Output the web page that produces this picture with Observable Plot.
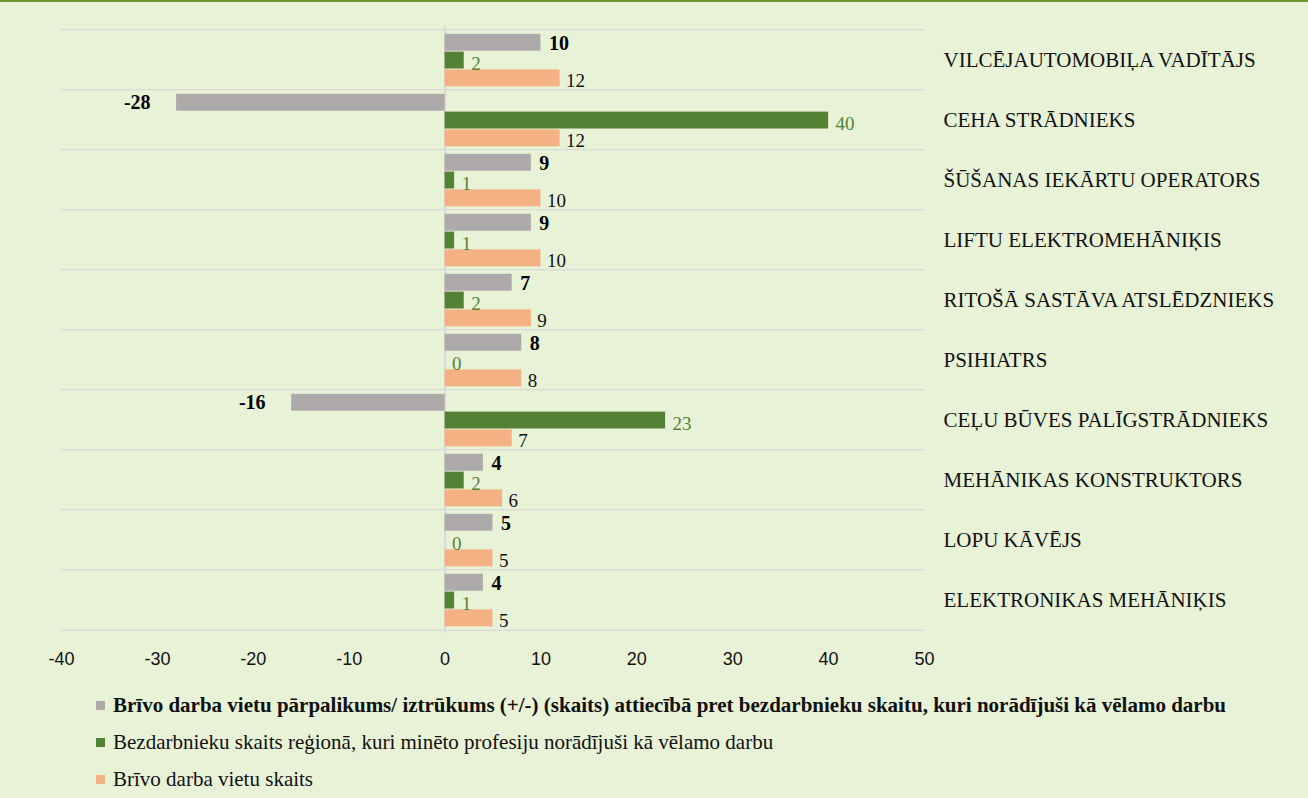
<!DOCTYPE html>
<html>
<head>
<meta charset="utf-8">
<script src="https://cdn.jsdelivr.net/npm/d3@7"></script>
<script src="https://cdn.jsdelivr.net/npm/@observablehq/plot@0.6"></script>
<style>
  html, body { margin: 0; padding: 0; background: #e8f2d6; }
  body { width: 1308px; height: 798px; overflow: hidden; font-family: "Liberation Serif", "Times New Roman", serif; }
  #topline { height: 2px; background: #6b9a2c; }
  #legend { position: absolute; left: 96px; top: 687px; font-size: 21px; color: #111; }
  .row { height: 37px; line-height: 37px; display: flex; align-items: center; }
  .sw { width: 9px; height: 9px; margin-right: 8px; flex: none; }
  #chart svg g[aria-label="x-axis tick label"] text { font-family: "Liberation Sans", Arial, sans-serif; font-size: 18px; }
</style>
</head>
<body>
<div id="topline"></div>
<div id="chart"></div>
<div id="legend"></div>
<script>
const categories = [
  "VILCĒJAUTOMOBIĻA VADĪTĀJS",
  "CEHA STRĀDNIEKS",
  "ŠŪŠANAS IEKĀRTU OPERATORS",
  "LIFTU ELEKTROMEHĀNIĶIS",
  "RITOŠĀ SASTĀVA ATSLĒDZNIEKS",
  "PSIHIATRS",
  "CEĻU BŪVES PALĪGSTRĀDNIEKS",
  "MEHĀNIKAS KONSTRUKTORS",
  "LOPU KĀVĒJS",
  "ELEKTRONIKAS MEHĀNIĶIS"
];
const surplus    = [10, -28, 9, 9, 7, 8, -16, 4, 5, 4];
const unemployed = [2, 40, 1, 1, 2, 0, 23, 2, 0, 1];
const vacancies  = [12, 12, 10, 10, 9, 8, 7, 6, 5, 5];
const seriesNames = [
  "Brīvo darba vietu pārpalikums/ iztrūkums (+/-) (skaits) attiecībā pret bezdarbnieku skaitu, kuri norādījuši kā vēlamo darbu",
  "Bezdarbnieku skaits reģionā, kuri minēto profesiju norādījuši kā vēlamo darbu",
  "Brīvo darba vietu skaits"
];
const colors = ["#aeaaaa", "#548235", "#f4b183"];
const xTicks = [-40, -30, -20, -10, 0, 10, 20, 30, 40, 50];

const rows = categories.map((c, i) => ({cat: c, s: surplus[i], u: unemployed[i], v: vacancies[i]}));

const W = 1308, H = 678, mT = 24, mB = 47, mL = 61, mR = 384;
const bw = (H - mT - mB) / categories.length;
const barH = 17.6;
const off = [3.8, 21.6, 39.4];
const inset = k => ({insetTop: off[k], insetBottom: bw - off[k] - barH});
const centerDy = k => off[k] + barH / 2 - bw / 2;

const chart = Plot.plot({
  width: W, height: H,
  marginTop: mT, marginBottom: mB, marginLeft: mL, marginRight: mR,
  style: {background: "transparent", fontFamily: "'Liberation Serif', 'Times New Roman', serif", fontSize: "21px", color: "#111"},
  x: {domain: [-40, 50], ticks: xTicks, tickFormat: d => String(d), tickSize: 0, tickPadding: 19, label: null, axis: "bottom"},
  y: {domain: categories, padding: 0, axis: "right", tickSize: 0, tickPadding: 19, label: null},
  marks: [
    Plot.barX(rows, {y: "cat", x1: -40, x2: 50, fill: "#d9d9d9", insetTop: -1, insetBottom: bw - 1}),
    Plot.barX(rows.slice(-1), {y: "cat", x1: -40, x2: 50, fill: "#d9d9d9", insetTop: bw - 1, insetBottom: -1}),
    Plot.ruleX([0], {stroke: "#d9d9d9", strokeWidth: 2}),
    Plot.barX(rows, {y: "cat", x: "s", fill: colors[0], ...inset(0)}),
    Plot.barX(rows, {y: "cat", x: "u", fill: colors[1], ...inset(1)}),
    Plot.barX(rows, {y: "cat", x: "v", fill: colors[2], ...inset(2)}),
    Plot.text(rows.filter(d => d.s >= 0), {y: "cat", x: "s", text: d => String(d.s), textAnchor: "start", dx: 8, dy: centerDy(0) + 1, fontWeight: "bold", fill: "#000", fontSize: 20}),
    Plot.text(rows.filter(d => d.s < 0), {y: "cat", x: "s", text: d => String(d.s), textAnchor: "end", dx: -26, dy: centerDy(0), fontWeight: "bold", fill: "#000", fontSize: 20}),
    Plot.text(rows, {y: "cat", x: "u", text: d => String(d.u), textAnchor: "start", dx: 7, dy: centerDy(1) + 3, fill: "#548235", fontSize: 19}),
    Plot.text(rows, {y: "cat", x: "v", text: d => String(d.v), textAnchor: "start", dx: 6, dy: centerDy(2) + 3, fill: "#111", fontSize: 19})
  ]
});
document.getElementById("chart").appendChild(chart);

const legend = document.getElementById("legend");
seriesNames.forEach((n, i) => {
  const r = document.createElement("div");
  r.className = "row";
  const sw = document.createElement("span");
  sw.className = "sw";
  sw.style.background = colors[i];
  const t = document.createElement("span");
  t.textContent = n;
  if (i === 0) t.style.fontWeight = "bold";
  r.appendChild(sw); r.appendChild(t);
  legend.appendChild(r);
});
</script>
</body>
</html>
